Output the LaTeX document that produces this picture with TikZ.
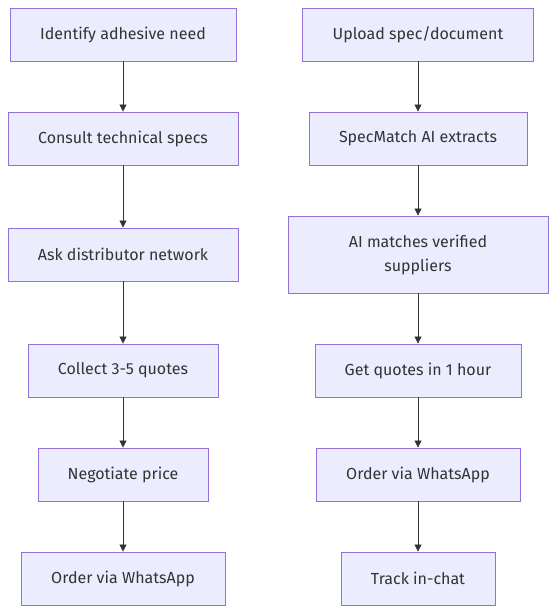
\documentclass[tikz,border=0pt]{standalone}
\usepackage{fontspec}
\setmainfont{Fira Sans}
\usetikzlibrary{arrows.meta}
\definecolor{boxfill}{HTML}{ECECFF}
\definecolor{boxline}{HTML}{9370DB}
\definecolor{ink}{HTML}{333333}
\tikzset{
  flowbox/.style={draw=boxline,fill=boxfill,line width=0.9pt,text=ink,
    inner sep=0pt,align=center,font=\fontsize{16}{24}\selectfont},
  flowarrow/.style={draw=ink,line width=0.8pt,-{Triangle[length=7pt,width=7pt]}}
}
\begin{document}
\begin{tikzpicture}[x=1pt,y=-1pt]
\useasboundingbox (0,0) rectangle (556,614);
% left column
\node[flowbox,minimum width=226,minimum height=53] (l1) at (123,34.5) {Identify adhesive need};
\node[flowbox,minimum width=230,minimum height=53] (l2) at (123,138.5) {Consult technical specs};
\node[flowbox,minimum width=230,minimum height=53] (l3) at (123,254.5) {Ask distributor network};
\node[flowbox,minimum width=190,minimum height=53] (l4) at (123,370.5) {Collect 3-5 quotes};
\node[flowbox,minimum width=170,minimum height=53] (l5) at (123,474.5) {Negotiate price};
\node[flowbox,minimum width=204,minimum height=53] (l6) at (123,578.5) {Order via WhatsApp};
% right column
\node[flowbox,minimum width=231,minimum height=53] (r1) at (418,34.5) {Upload spec/document};
\node[flowbox,minimum width=218,minimum height=53] (r2) at (418,138.5) {SpecMatch AI extracts};
\node[flowbox,minimum width=260,minimum height=77] (r3) at (418,254.5) {AI matches verified\\suppliers};
\node[flowbox,minimum width=206,minimum height=53] (r4) at (418,370.5) {Get quotes in 1 hour};
\node[flowbox,minimum width=204,minimum height=53] (r5) at (418,474.5) {Order via WhatsApp};
\node[flowbox,minimum width=154,minimum height=53] (r6) at (418,578.5) {Track in-chat};
% connectors
\foreach \a/\b in {l1/l2,l2/l3,l3/l4,l4/l5,l5/l6,r1/r2,r2/r3,r3/r4,r4/r5,r5/r6}
  \draw[flowarrow] (\a) -- (\b);
\end{tikzpicture}
\end{document}
